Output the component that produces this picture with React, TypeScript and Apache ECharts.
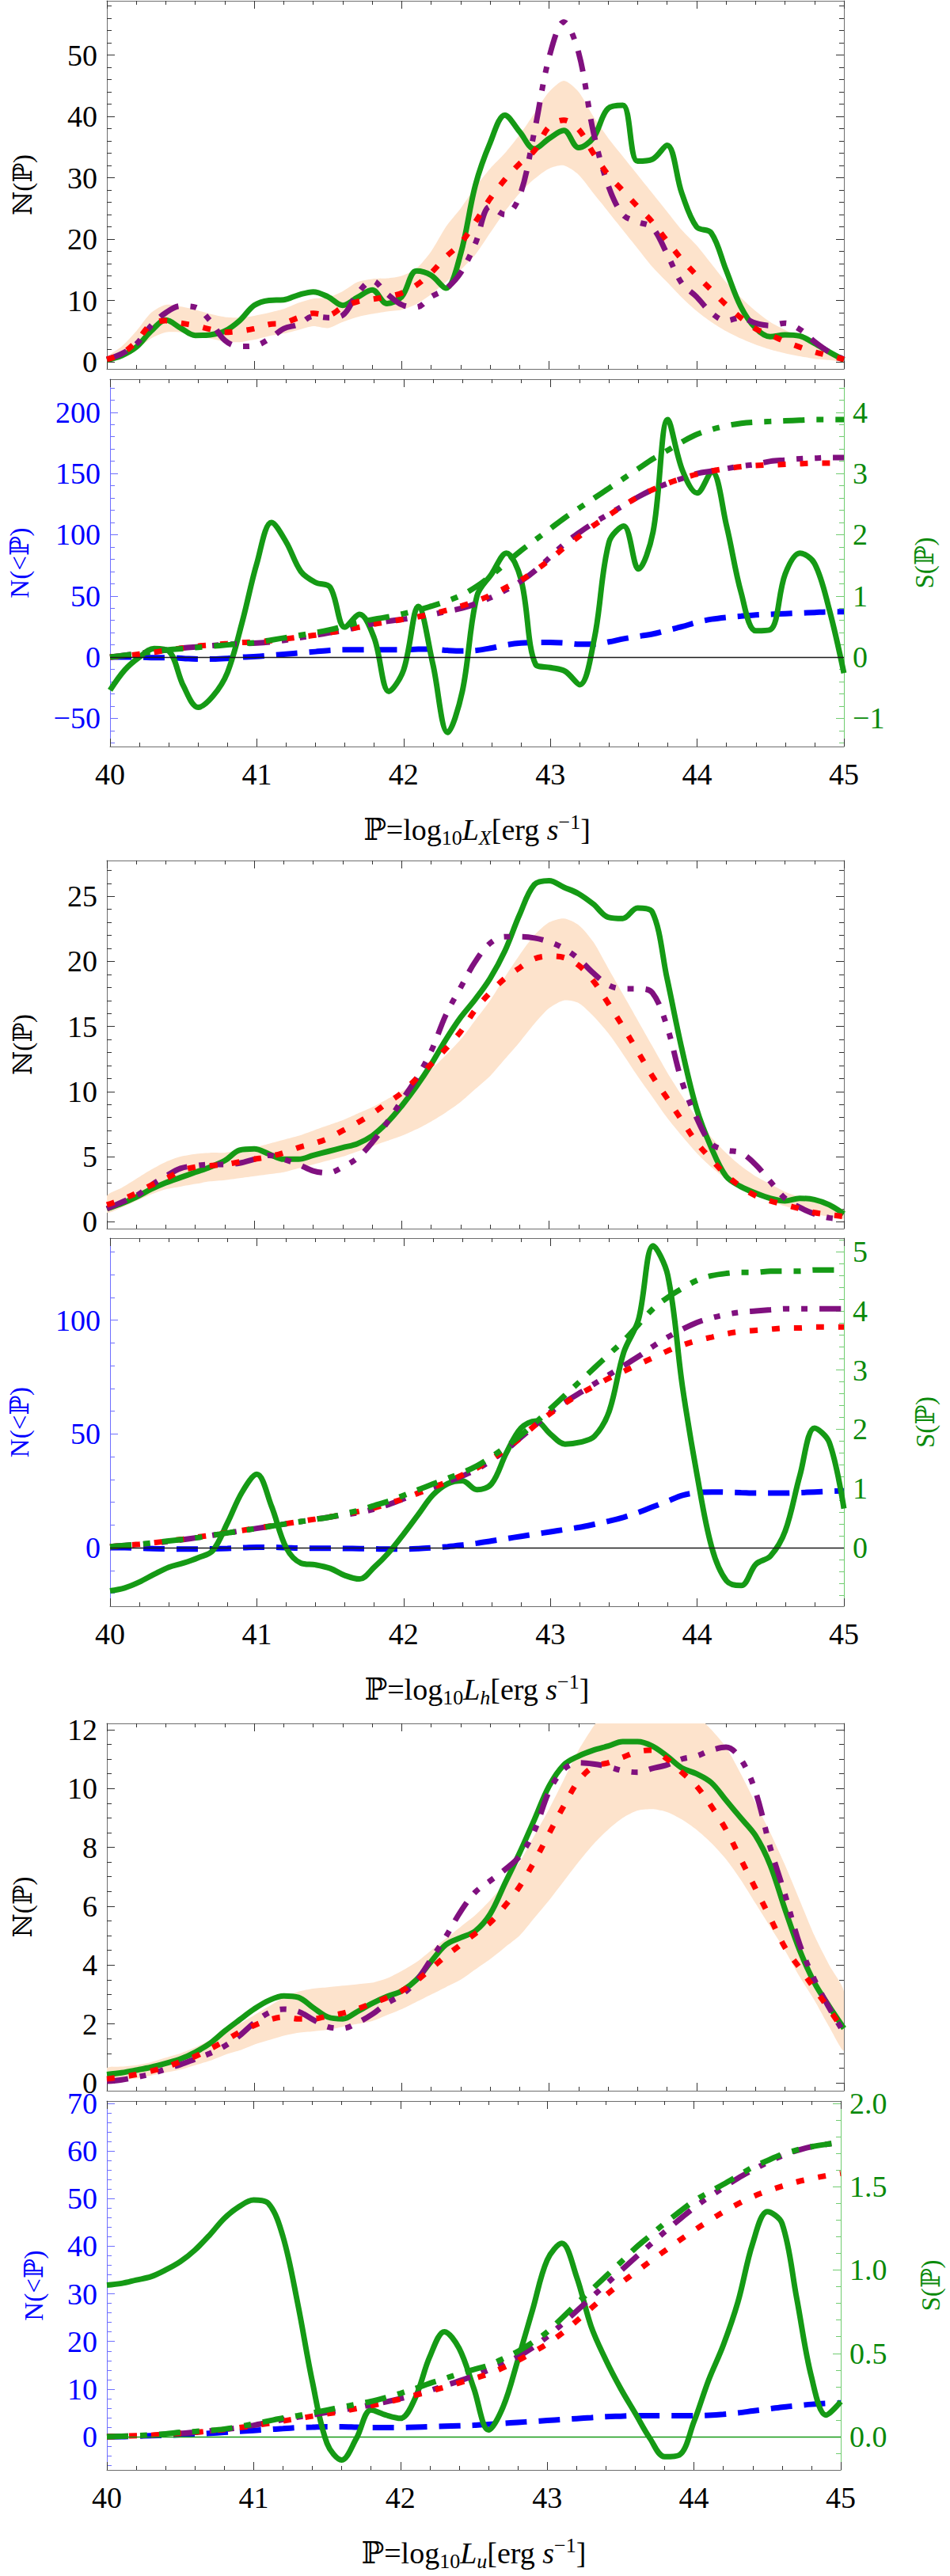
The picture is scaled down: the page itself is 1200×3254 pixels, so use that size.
import { useEffect, useRef } from "react";
import * as echarts from "echarts";

// luminosity grid shared by every panel
const xs = [
  40.0, 40.1, 40.2, 40.3, 40.4, 40.5, 40.6, 40.7, 40.8, 40.9,
  41.0, 41.1, 41.2, 41.3, 41.4, 41.5, 41.6, 41.7, 41.8, 41.9,
  42.0, 42.1, 42.2, 42.3, 42.4, 42.5, 42.6, 42.7, 42.8, 42.9,
  43.0, 43.1, 43.2, 43.3, 43.4, 43.5, 43.6, 43.7, 43.8, 43.9,
  44.0, 44.1, 44.2, 44.3, 44.4, 44.5, 44.6, 44.7, 44.8, 44.9,
  45.0,
];
const xTicks = [40, 41, 42, 43, 44, 45];

// ---- L_X : density panel ----
const nXGreen = [0.3, 1, 2.4, 5, 6.8, 5.5, 4.3, 4.4, 5, 6.7, 9.2, 10, 10.1, 10.9, 11.4, 10.6, 9.2, 10.5, 11.7, 9.5, 10.6, 14.8, 14.1, 12, 17.6, 28.8, 35.7, 40.2, 37.5, 34.7, 36.4, 37.7, 34.9, 36.5, 41.3, 41.8, 32.7, 33, 35.3, 27.5, 22, 21, 15, 9, 5.5, 4.1, 4.4, 4.2, 3, 1.6, 0.3];
const nXPurple = [0.4, 1.3, 2.9, 5.9, 8, 9.1, 8.9, 6.7, 3.5, 2.5, 2.6, 3.7, 5.4, 6.1, 7.4, 7.2, 7.6, 11.1, 13.2, 11.1, 9.3, 8.9, 10.6, 11.9, 14.5, 19.3, 25.3, 24, 27, 37.5, 49.6, 55.4, 50.4, 37.5, 28.8, 24, 22.8, 21.9, 17.6, 12.8, 10.6, 8, 6.7, 7.2, 6.3, 5.9, 6.3, 5.3, 3.3, 1.6, 0.4];
const nXRed = [0.4, 1.3, 3.3, 6.1, 6.7, 6.3, 5.9, 5.3, 4.8, 5, 5.4, 6.1, 6.3, 7.2, 7.9, 7.6, 8.9, 9.8, 10.2, 10.6, 11.2, 12.5, 14.5, 17.1, 19.3, 22.8, 26.6, 29.7, 32.3, 34.4, 38.3, 39.4, 37.9, 34, 30.5, 27.9, 25.3, 22.8, 19.7, 16.7, 14.1, 11.7, 9.3, 7.2, 5.4, 4.4, 3.3, 2.4, 1.6, 1, 0.4];
const nXBandHi = [0.8, 2.5, 5, 8, 9.3, 9, 8.5, 7.8, 7.3, 7.2, 7.5, 8, 8.6, 9.6, 10.3, 10.5, 11.5, 13, 13.5, 13.6, 14, 15.2, 18, 22, 25, 28.5, 31.5, 34, 37, 40.5, 44, 45.8, 44, 40, 36.5, 33.5, 30.5, 27.5, 24.5, 21.5, 19, 16, 13, 10.5, 8.3, 6.5, 5.2, 4, 3, 1.9, 0.8];
const nXBandLo = [0.1, 0.8, 2, 3.8, 4.8, 4.8, 4.3, 3.8, 3.3, 3.2, 3.6, 4.2, 4.6, 5.2, 5.8, 5.5, 6.5, 7.3, 7.8, 8.2, 8.5, 9.4, 11, 13, 15, 17.5, 21, 24.5, 27.5, 29.8, 31.5, 32, 30.5, 27.5, 24.5, 21.5, 18.5, 15.5, 13, 10.5, 8.3, 6.5, 5, 3.8, 2.8, 2, 1.4, 0.9, 0.5, 0.3, 0.1];

// ---- L_X : cumulative + significance panel ----
const sXGreen = [-0.54, -0.21, 0, 0.14, 0.1, -0.47, -0.82, -0.64, -0.25, 0.57, 1.53, 2.2, 1.88, 1.4, 1.22, 1.14, 0.49, 0.7, 0.31, -0.56, -0.21, 0.83, -0.12, -1.23, -0.56, 1.0, 1.36, 1.7, 1.27, -0.12, -0.17, -0.23, -0.45, 0.31, 1.88, 2.14, 1.44, 2.05, 3.88, 3.05, 2.68, 3.03, 2.15, 1.05, 0.43, 0.45, 1.36, 1.7, 1.53, 0.78, -0.26];
const cXGreen = [0, 1.5, 3, 4.5, 6, 7, 8, 9, 10, 11, 12, 14, 16, 18, 20, 22.5, 25.5, 28.5, 31, 33, 35.5, 38.5, 42, 46, 51, 58, 67, 77, 87, 96, 105, 114, 122, 130, 138, 146, 154, 162, 169, 176, 182, 186, 189, 191, 192, 192.5, 193, 193.5, 194, 194, 194];
const cXPurple = [0, 1.5, 3, 4.5, 6, 7.5, 8.5, 9.5, 10.5, 11, 11.5, 12.5, 14, 16, 18, 20, 22, 25, 27.5, 29.5, 31, 33, 35, 37.5, 40, 44, 49, 55, 62, 71, 82, 93, 102, 110, 117, 124, 131, 137, 142, 146, 150, 152, 154, 156, 157.5, 160, 161, 162, 162.5, 163, 163];
const cXRed = [0, 1, 2.5, 4, 6, 7.5, 9, 10, 11, 12, 12.5, 13.5, 15, 16.5, 18, 20, 22, 24.5, 27, 29, 31, 33, 35.5, 38.5, 42, 46, 51, 57, 63, 71, 80, 90, 99, 108, 116, 124, 131, 137, 142, 146, 149.5, 152, 154, 155.5, 156.5, 157, 157.5, 158, 158.5, 158.5, 159];
const cXBlue = [0, 0, 0, -0.5, -0.5, -1, -1.5, -1.5, -1, 0, 0.5, 1.5, 2.5, 3.5, 4.5, 5.5, 6, 6, 6, 6, 6, 6.5, 6.5, 5.5, 5, 5.5, 7.5, 10, 11.5, 12, 12, 11.5, 10.5, 10.5, 12.5, 15, 17, 19, 22, 25, 28.5, 31, 32.5, 33.5, 34.5, 35, 35.5, 36, 36.5, 37, 37];

// ---- L_h : density panel ----
const nHGreen = [1, 1.4, 1.9, 2.5, 3, 3.4, 3.8, 4.2, 4.7, 5.5, 5.6, 5.2, 4.8, 4.8, 5.1, 5.4, 5.7, 6, 6.6, 7.6, 8.9, 10.4, 12.1, 14, 15.7, 17.1, 18.7, 20.8, 23.6, 25.9, 26.2, 25.7, 25.2, 24.4, 23.4, 23.3, 24.1, 23.8, 18.7, 13.3, 8.7, 5.7, 3.5, 2.7, 2.2, 1.8, 1.6, 1.8, 1.7, 1.3, 0.6];
const nHPurple = [1, 1.5, 2, 2.8, 3.5, 4.1, 4.3, 4.4, 4.4, 4.5, 4.8, 5.1, 4.8, 4.4, 3.9, 3.75, 4.2, 4.9, 6.1, 7.6, 9.3, 11, 13.1, 15.9, 18, 20, 21.4, 21.9, 21.9, 21.8, 21.5, 21, 20.2, 19.1, 18.2, 17.9, 17.9, 17.6, 15, 10.8, 8, 6, 5.5, 5.3, 4.4, 3.1, 1.8, 1.1, 0.6, 0.3, 0.2];
const nHRed = [1.3, 1.7, 2.2, 2.8, 3.3, 3.9, 4.2, 4.3, 4.4, 4.6, 4.8, 5, 5.3, 5.7, 6, 6.4, 7, 7.6, 8.3, 9.1, 9.9, 11, 12.1, 13.3, 14.6, 16.3, 17.6, 18.7, 19.5, 20.2, 20.4, 20.3, 19.7, 18.5, 16.8, 15, 13.1, 11.2, 9.5, 7.8, 6.1, 4.8, 3.6, 2.7, 2, 1.6, 1.3, 1, 0.7, 0.55, 0.4];
const nHBandHi = [2, 2.6, 3.3, 4, 4.6, 5, 5.2, 5.3, 5.3, 5.5, 5.7, 6, 6.3, 6.6, 7, 7.4, 7.8, 8.3, 8.8, 9.4, 10, 10.8, 11.7, 12.8, 14, 15.5, 17, 18.8, 20.5, 22, 23, 23.3, 22.8, 21.5, 19.5, 17.5, 15.5, 13.5, 11.5, 9.7, 8, 6.5, 5.3, 4.3, 3.5, 2.9, 2.3, 1.9, 1.5, 1.2, 0.9];
const nHBandLo = [0.7, 1.1, 1.6, 2.1, 2.5, 2.7, 2.9, 3.1, 3.2, 3.35, 3.5, 3.65, 3.8, 4.1, 4.4, 4.7, 5, 5.4, 5.8, 6.2, 6.6, 7.1, 7.7, 8.4, 9.2, 10.2, 11.2, 12.5, 13.8, 15.2, 16.4, 17, 16.8, 15.8, 14.5, 12.9, 11.2, 9.6, 8, 6.6, 5.3, 4.2, 3.3, 2.6, 2, 1.6, 1.2, 0.9, 0.6, 0.4, 0.25];

// ---- L_h : cumulative + significance panel ----
const sHGreen = [-0.73, -0.68, -0.58, -0.45, -0.33, -0.26, -0.17, -0.05, 0.42, 0.94, 1.24, 0.7, 0, -0.26, -0.29, -0.35, -0.47, -0.53, -0.33, -0.08, 0.23, 0.56, 0.89, 1.08, 1.13, 0.98, 1.08, 1.6, 2.02, 2.14, 1.92, 1.75, 1.78, 1.88, 2.3, 3.3, 3.85, 5.1, 4.6, 2.72, 1.22, 0, -0.56, -0.64, -0.28, -0.14, 0.28, 1.22, 2.02, 1.78, 0.66];
const cHGreen = [0.5, 1, 1.5, 2.2, 3, 3.7, 4.5, 5.5, 6.5, 7.5, 8.5, 9.5, 10.5, 11.5, 12.5, 13.5, 15, 16.5, 18.5, 20.5, 23, 25.5, 28, 30.5, 33, 36, 40, 44.5, 49.5, 55, 61, 67, 73, 79, 85, 91, 98, 105, 110, 114, 117.5, 119.5, 120.5, 121, 121, 121.5, 121.5, 121.5, 122, 122, 122];
const cHPurple = [0.5, 1, 1.5, 2, 2.8, 3.6, 4.5, 5.5, 6.5, 7.5, 8.5, 9.5, 10.5, 11.5, 12.5, 13.5, 14.5, 15.5, 17, 19, 21.5, 24, 26.5, 29, 31.5, 34.5, 38.5, 43, 48.5, 54, 59.5, 64, 68, 72, 76, 80, 84, 88.5, 92.5, 96, 99, 101, 102.5, 103.5, 104, 104.5, 105, 105, 105, 105, 105];
const cHRed = [0.5, 1, 1.5, 2.2, 3, 3.8, 4.7, 5.6, 6.6, 7.6, 8.6, 9.6, 10.6, 11.6, 12.6, 13.6, 14.8, 16, 17.5, 19.5, 21.5, 24, 26.5, 29, 32, 35, 39, 43.5, 48.5, 54, 59, 63.5, 67.5, 71, 74.5, 77.5, 80.5, 83.5, 86.5, 89, 91, 92.5, 94, 95, 95.5, 96, 96.5, 96.5, 97, 97, 97];
const cHBlue = [0, 0, -0.2, -0.4, -0.5, -0.6, -0.6, -0.5, -0.3, 0, 0.2, 0.2, 0, -0.2, -0.2, -0.2, -0.3, -0.4, -0.5, -0.6, -0.6, -0.4, 0, 0.5, 1.2, 2, 3, 4, 5, 6, 7, 8, 9, 10.3, 11.7, 13.4, 15.5, 18, 20.5, 23, 24.2, 24.5, 24.4, 24.2, 24, 24, 24, 24.2, 24.5, 24.8, 25];

// ---- L_u : density panel ----
const nUGreen = [0.28, 0.34, 0.43, 0.53, 0.66, 0.81, 1.04, 1.34, 1.76, 2.14, 2.51, 2.8, 2.95, 2.9, 2.55, 2.23, 2.17, 2.42, 2.7, 2.93, 3.12, 3.5, 4.12, 4.69, 4.93, 5.16, 5.73, 6.77, 7.81, 8.94, 10.08, 10.8, 11.1, 11.3, 11.44, 11.59, 11.59, 11.44, 11.1, 10.7, 10.5, 10.2, 9.6, 9.0, 8.4, 7.4, 5.9, 4.5, 3.4, 2.6, 1.85];
const nUPurple = [0.05, 0.1, 0.19, 0.3, 0.47, 0.62, 0.81, 1, 1.25, 1.6, 2.04, 2.38, 2.5, 2.42, 2.14, 1.9, 1.85, 2.04, 2.33, 2.7, 2.99, 3.46, 4.2, 4.97, 5.82, 6.48, 6.86, 7.24, 7.7, 8.56, 9.9, 10.65, 10.87, 10.83, 10.74, 10.6, 10.55, 10.68, 10.8, 11, 11.1, 11.3, 11.4, 11.0, 9.9, 8.0, 6.4, 4.7, 3.5, 2.55, 1.7];
const nURed = [0.13, 0.2, 0.28, 0.4, 0.53, 0.72, 0.9, 1.15, 1.42, 1.72, 1.95, 2.14, 2.23, 2.17, 2.17, 2.27, 2.36, 2.51, 2.7, 2.89, 3.12, 3.46, 3.88, 4.31, 4.69, 5.07, 5.44, 6.01, 6.67, 7.52, 8.47, 9.41, 10.26, 10.74, 10.87, 11.06, 11.25, 11.3, 11, 10.55, 10.08, 9.4, 8.6, 7.6, 6.6, 5.6, 4.6, 3.9, 3.2, 2.5, 1.76];
const nUBandHi = [0.5, 0.55, 0.6, 0.7, 0.85, 1, 1.2, 1.45, 1.7, 2, 2.3, 2.6, 2.9, 3.1, 3.2, 3.25, 3.3, 3.35, 3.4, 3.55, 3.8, 4.1, 4.5, 4.9, 5.3, 5.7, 6.2, 6.8, 7.5, 8.4, 9.3, 10.3, 11.3, 12.1, 12.8, 13.2, 13.5, 13.6, 13.4, 13, 12.5, 12, 11.4, 10.5, 9.5, 8.5, 7.4, 6.2, 5, 4, 3.1];
const nUBandLo = [0.05, 0.1, 0.15, 0.25, 0.35, 0.45, 0.6, 0.75, 0.95, 1.1, 1.3, 1.45, 1.6, 1.7, 1.75, 1.8, 1.9, 2, 2.1, 2.3, 2.5, 2.75, 3, 3.25, 3.5, 3.85, 4.2, 4.6, 5, 5.6, 6.2, 6.85, 7.5, 8.1, 8.6, 9, 9.25, 9.3, 9.2, 8.95, 8.6, 8.15, 7.6, 6.9, 6.1, 5.3, 4.5, 3.6, 2.8, 1.9, 1.1];

// ---- L_u : cumulative + significance panel ----
const sUGreen = [0.91, 0.92, 0.94, 0.96, 1.0, 1.05, 1.12, 1.21, 1.31, 1.38, 1.42, 1.4, 1.2, 0.8, 0.33, -0.04, -0.14, -0.01, 0.16, 0.13, 0.11, 0.23, 0.48, 0.63, 0.53, 0.29, 0.04, 0.18, 0.46, 0.76, 1.06, 1.16, 0.96, 0.66, 0.46, 0.29, 0.14, -0.01, -0.12, -0.11, 0.09, 0.34, 0.55, 0.81, 1.16, 1.35, 1.28, 0.83, 0.36, 0.13, 0.21];
const cUGreen = [0, 0.1, 0.2, 0.4, 0.6, 0.9, 1.1, 1.3, 1.6, 2.1, 2.7, 3.3, 3.9, 4.4, 5, 5.6, 6.2, 6.8, 7.4, 8.2, 9.1, 10.1, 11.2, 12.2, 13.2, 14.1, 15, 16.4, 17.9, 19.8, 22, 24.9, 27.9, 30.8, 33.7, 36.6, 39.6, 42.2, 44.8, 47.2, 49.5, 51.3, 53, 54.8, 56.6, 58, 59.3, 60.2, 60.9, 61.4, 61.8];
const cUPurple = [0, 0.1, 0.2, 0.3, 0.5, 0.7, 0.9, 1.2, 1.5, 1.9, 2.4, 3, 3.6, 4.1, 4.6, 5.1, 5.6, 6.1, 6.7, 7.3, 8, 8.8, 9.7, 10.7, 11.7, 12.8, 14, 15.3, 16.8, 18.7, 21, 23.6, 26.4, 29.2, 32, 34.8, 37.6, 40.3, 43, 45.6, 48.1, 50.3, 52.3, 54.3, 56, 57.6, 59, 60.1, 60.9, 61.4, 61.8];
const cURed = [0, 0.1, 0.2, 0.3, 0.5, 0.7, 0.9, 1.2, 1.5, 1.9, 2.3, 2.8, 3.3, 3.8, 4.3, 4.8, 5.3, 5.9, 6.5, 7.2, 7.9, 8.7, 9.5, 10.4, 11.3, 12.2, 13.2, 14.5, 16, 17.7, 19.5, 21.7, 24.3, 27, 29.7, 32.2, 34.5, 36.8, 39, 41.2, 43.3, 45.3, 47.2, 48.9, 50.4, 51.6, 52.6, 53.5, 54.2, 54.8, 55.3];
const cUBlue = [0, 0, 0.1, 0.2, 0.3, 0.4, 0.5, 0.7, 0.9, 1.1, 1.3, 1.5, 1.7, 1.9, 2, 2.1, 2.1, 2, 1.9, 1.9, 1.9, 2, 2.1, 2.2, 2.3, 2.4, 2.6, 2.8, 3, 3.2, 3.4, 3.6, 3.8, 4, 4.2, 4.3, 4.4, 4.4, 4.4, 4.4, 4.4, 4.5, 4.7, 5, 5.4, 5.8, 6.2, 6.5, 6.8, 7, 7.1];

const FONT = '"Liberation Serif", "DejaVu Serif", serif';
const RED = "#ff0000";
const PURPLE = "#80107f";
const BLUE = "#0000ff";
const GREEN = "#159a15";
const GREEN_TXT = "#0b8a0b";
const BAND = "#fde3cc";
const FRAME = "#6e6e6e";
const TICK = "#333333";
const BLUE_LINE = "#6f6fff";
const GREEN_LINE = "#70cc70";

const LEFT = 135;
const WIDTH = 931;
const panels = [
  { top: 1, height: 465 },
  { top: 479, height: 464 },
  { top: 1087, height: 465 },
  { top: 1564, height: 465 },
  { top: 2177, height: 464 },
  { top: 2654, height: 466 },
];

function ticks(min: number, max: number, step: number, skip = 0): number[] {
  const out: number[] = [];
  const a = Math.ceil(min / step - 1e-9);
  const b = Math.floor(max / step + 1e-9);
  for (let k = a; k <= b; k++) {
    const v = Math.round(k * step * 1e6) / 1e6;
    if (skip && Math.abs(v / skip - Math.round(v / skip)) < 1e-6) continue;
    out.push(v);
  }
  return out;
}

const minus = (v: number) => String(v).replace("-", "\u2212");

interface YOpt {
  labels?: boolean;
  color?: string;
  line?: string;
  tick?: string;
  name?: string;
  nameColor?: string;
  nameGap?: number;
  fmt?: (v: number) => string;
  margin?: number;
}

function yPair(grid: number, side: "left" | "right", min: number, max: number, major: number, minor: number, o: YOpt) {
  const majors = ticks(min, max, major);
  const minors = ticks(min, max, minor, major);
  const tickColor = o.tick ?? TICK;
  return [
    {
      type: "value",
      gridIndex: grid,
      position: side,
      min,
      max,
      axisLine: { show: true, onZero: false, lineStyle: { color: o.line ?? FRAME, width: 1 } },
      axisTick: { show: true, inside: true, length: 10, customValues: majors, lineStyle: { color: tickColor } },
      axisLabel: {
        show: !!o.labels,
        customValues: majors,
        margin: o.margin ?? 12,
        color: o.color ?? "#000",
        fontFamily: FONT,
        fontSize: 38,
        formatter: o.fmt ?? minus,
      },
      splitLine: { show: false },
      name: o.name,
      nameLocation: "middle",
      nameRotate: 90,
      nameGap: o.nameGap ?? 80,
      nameTextStyle: { fontFamily: FONT, fontSize: 33, color: o.nameColor ?? "#000" },
    },
    {
      type: "value",
      gridIndex: grid,
      position: side,
      min,
      max,
      axisLine: { show: false },
      axisTick: { show: true, inside: true, length: 6, customValues: minors, lineStyle: { color: tickColor } },
      axisLabel: { show: false },
      splitLine: { show: false },
    },
  ];
}

const titleRich = {
  a: { fontFamily: FONT, fontSize: 38, lineHeight: 46, verticalAlign: "middle", color: "#000" },
  i: { fontFamily: FONT, fontSize: 38, lineHeight: 46, verticalAlign: "middle", fontStyle: "italic", color: "#000" },
  s: { fontFamily: FONT, fontSize: 26, lineHeight: 26, verticalAlign: "bottom", color: "#000" },
  si: { fontFamily: FONT, fontSize: 26, lineHeight: 26, verticalAlign: "bottom", fontStyle: "italic", color: "#000" },
  p: { fontFamily: FONT, fontSize: 26, lineHeight: 26, verticalAlign: "top", color: "#000" },
};

function xPair(grid: number, sub?: string) {
  const common = {
    type: "value",
    gridIndex: grid,
    min: 40,
    max: 45,
    interval: 1,
    axisLine: { show: true, onZero: false, lineStyle: { color: FRAME, width: 1 } },
    axisTick: { show: true, inside: true, length: 10, lineStyle: { color: TICK } },
    minorTick: { show: true, splitNumber: 5, length: 5, lineStyle: { color: TICK } },
    splitLine: { show: false },
  };
  return [
    {
      ...common,
      position: "bottom",
      axisLabel: {
        show: !!sub,
        customValues: xTicks,
        margin: 16,
        color: "#000",
        fontFamily: FONT,
        fontSize: 38,
      },
      name: sub ? `{a|\u2119=log}{s|10}{i|L}{si|${sub}}{a|[erg }{i|s}{p|\u22121}{a|]}` : undefined,
      nameLocation: "middle",
      nameGap: 82,
      nameTextStyle: { fontFamily: FONT, fontSize: 38, color: "#000", rich: titleRich },
    },
    { ...common, position: "top", axisLabel: { show: false } },
  ];
}

const pts = (arr: number[]) => xs.map((x, k) => [x, arr[k]]);

function line(grid: number, yIdx: number, arr: number[], color: string, width: number, dash?: number[]) {
  return {
    type: "line",
    xAxisIndex: grid * 2,
    yAxisIndex: grid * 4 + yIdx,
    data: pts(arr),
    symbol: "none",
    showSymbol: false,
    smooth: 0.35,
    lineStyle: { color, width, type: dash ?? "solid", cap: "butt" },
  };
}

// shaded uncertainty band: one polygon, upper edge forward then lower edge back
function band(grid: number, lo: number[], hi: number[]) {
  return {
    type: "custom",
    xAxisIndex: grid * 2,
    yAxisIndex: grid * 4,
    clip: true,
    silent: true,
    data: [[42.5, 1]],
    encode: { x: 0, y: 1 },
    renderItem: (_params: any, api: any) => {
      const upper = xs.map((x, k) => api.coord([x, hi[k]]));
      const lower = xs.map((x, k) => api.coord([x, lo[k]])).reverse();
      return {
        type: "polygon",
        shape: { points: [...upper, ...lower], smooth: 0.25 },
        style: { fill: BAND, stroke: null },
      };
    },
  };
}

const DOT = [10, 18];
const DASHDOTDOT = [27, 15, 8, 15, 8, 15];
const DASH = [27, 15];
const DASHDOT = [27, 15, 9, 15];

function densitySeries(grid: number, g: number[], p: number[], r: number[], lo: number[], hi: number[]) {
  return [
    band(grid, lo, hi),
    line(grid, 0, g, GREEN, 7),
    line(grid, 0, p, PURPLE, 7, DASHDOTDOT),
    line(grid, 0, r, RED, 7, DOT),
  ];
}

function cumulativeSeries(grid: number, s: number[], cg: number[], cp: number[], cr: number[], cb: number[], zeroColor: string) {
  const blue: any = line(grid, 0, cb, BLUE, 7, DASH);
  blue.markLine = {
    silent: true,
    symbol: "none",
    label: { show: false },
    lineStyle: { color: zeroColor, width: 1.3, type: "solid" },
    data: [{ yAxis: 0 }],
  };
  return [
    blue,
    line(grid, 2, s, GREEN, 7),
    line(grid, 0, cp, PURPLE, 7, DASHDOTDOT),
    line(grid, 0, cr, RED, 7, DOT),
    line(grid, 0, cg, GREEN, 7, DASHDOT),
  ];
}

function densityY(grid: number, min: number, max: number, major: number, minor: number) {
  return [
    ...yPair(grid, "left", min, max, major, minor, { labels: true, name: "\u2115(\u2119)", nameGap: 90 }),
    ...yPair(grid, "right", min, max, major, minor, {}),
  ];
}

function cumulativeY(
  grid: number,
  l: [number, number, number, number],
  r: [number, number, number, number],
  leftGap: number,
  rightGap: number,
  rfmt?: (v: number) => string
) {
  return [
    ...yPair(grid, "left", l[0], l[1], l[2], l[3], {
      labels: true,
      color: BLUE,
      line: BLUE_LINE,
      tick: BLUE_LINE,
      name: "N(<\u2119)",
      nameColor: BLUE,
      nameGap: leftGap,
    }),
    ...yPair(grid, "right", r[0], r[1], r[2], r[3], {
      labels: true,
      color: GREEN_TXT,
      line: GREEN_LINE,
      tick: GREEN_LINE,
      name: "S(\u2119)",
      nameColor: GREEN_TXT,
      nameGap: rightGap,
      fmt: rfmt,
      margin: 11,
    }),
  ];
}

export default function App() {
  const ref = useRef<HTMLDivElement>(null);

  useEffect(() => {
    if (!ref.current) return;
    const chart = echarts.init(ref.current, undefined, { renderer: "svg" });

    const option: any = {
      animation: false,
      backgroundColor: "#fff",
      grid: panels.map((p) => ({ left: LEFT, width: WIDTH, top: p.top, height: p.height, containLabel: false })),
      xAxis: [
        ...xPair(0),
        ...xPair(1, "X"),
        ...xPair(2),
        ...xPair(3, "h"),
        ...xPair(4),
        ...xPair(5, "u"),
      ],
      yAxis: [
        ...densityY(0, -1.16, 58.84, 10, 2),
        ...cumulativeY(1, [-73, 227, 50, 10], [-1.46, 4.54, 1, 0.2], 98, 85),
        ...densityY(2, -0.53, 27.75, 5, 1),
        ...cumulativeY(3, [-25.7, 136, 50, 10], [-0.99, 5.23, 1, 0.2], 98, 86),
        ...densityY(4, -0.27, 12.21, 2, 0.5),
        ...cumulativeY(5, [-6.98, 70.5, 10, 2], [-0.1994, 2.014, 0.5, 0.1], 76, 97, (v) => v.toFixed(1)),
      ],
      series: [
        ...densitySeries(0, nXGreen, nXPurple, nXRed, nXBandLo, nXBandHi),
        ...cumulativeSeries(1, sXGreen, cXGreen, cXPurple, cXRed, cXBlue, "#1a1a1a"),
        ...densitySeries(2, nHGreen, nHPurple, nHRed, nHBandLo, nHBandHi),
        ...cumulativeSeries(3, sHGreen, cHGreen, cHPurple, cHRed, cHBlue, "#1a1a1a"),
        ...densitySeries(4, nUGreen, nUPurple, nURed, nUBandLo, nUBandHi),
        ...cumulativeSeries(5, sUGreen, cUGreen, cUPurple, cURed, cUBlue, GREEN),
      ],
    };

    chart.setOption(option);
    return () => chart.dispose();
  }, []);

  return (
    <div
      ref={ref}
      style={{ position: "absolute", left: 0, top: 0, width: 1200, height: 3254, background: "#fff" }}
    />
  );
}
